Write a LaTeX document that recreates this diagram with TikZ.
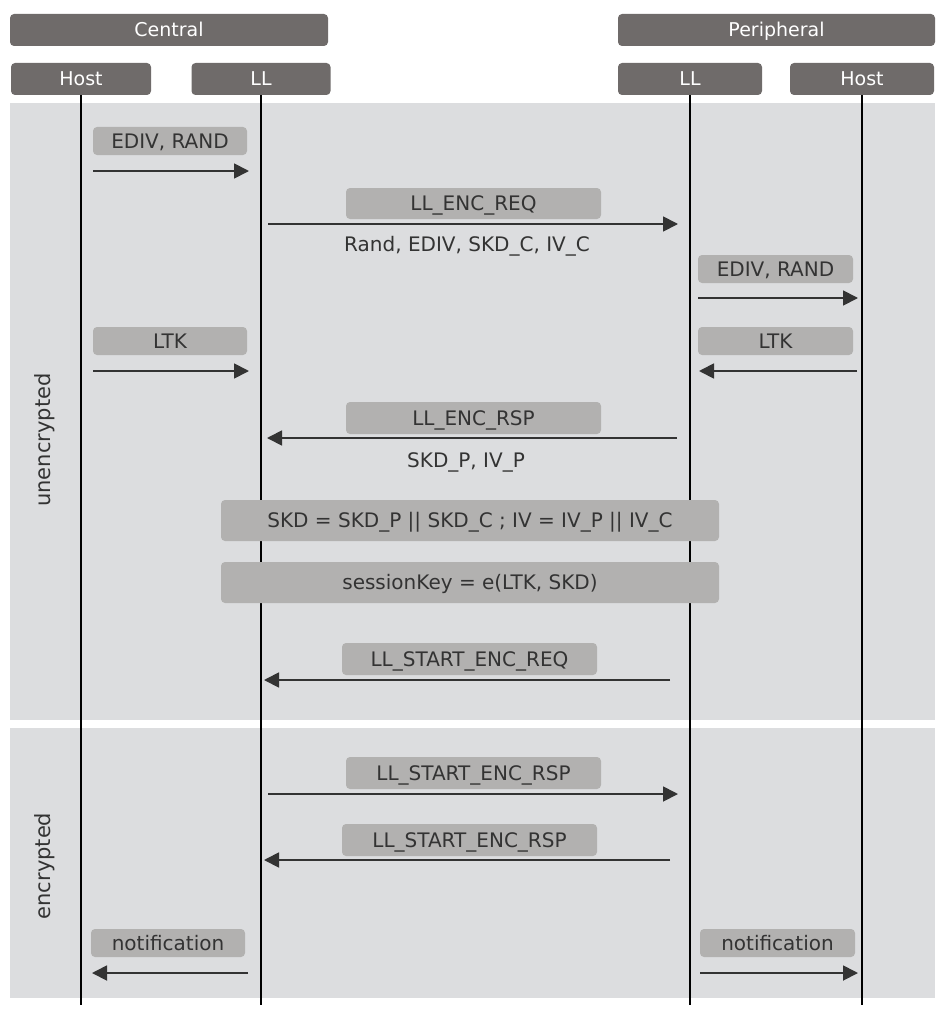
\documentclass[tikz,border=0pt]{standalone}
\usepackage{fontspec}
\setmainfont{DejaVu Sans}
\usetikzlibrary{arrows.meta}
\definecolor{hdr}{HTML}{6F6B6A}
\definecolor{bgc}{HTML}{DCDDDF}
\definecolor{msgc}{HTML}{B2B1B0}
\definecolor{txt}{HTML}{333333}
\begin{document}
\begin{tikzpicture}[x=1pt,y=-1pt,
  hdrbox/.style={fill=hdr, rounded corners=4pt, text=white, inner sep=0pt, minimum height=32,
     text height=17pt, text depth=3.2pt, font=\fontsize{19}{22}\selectfont},
  msgbox/.style={fill=msgc, rounded corners=4pt, text=txt, inner sep=0pt,
     text height=18pt, text depth=3.4pt, font=\fontsize{20}{24}\selectfont},
  plain/.style={text=txt, inner sep=0pt, text height=18pt, text depth=3.4pt,
     font=\fontsize{20}{24}\selectfont},
  side/.style={text=txt, inner sep=0pt, rotate=90, font=\fontsize{21}{24}\selectfont},
  life/.style={draw=black, line width=1.1pt},
  msg/.style={draw=txt, line width=1.8pt, -{Triangle[length=15pt,width=15pt]}}]
\useasboundingbox (0,0) rectangle (952,1014);
% background bands
\fill[bgc] (10,103) rectangle (935,720);
\fill[bgc] (10,728) rectangle (935,998);
% headers
\node[hdrbox, minimum width=318] (central) at (169,30) {Central};
\node[hdrbox, minimum width=317] (periph) at (776.5,30) {Peripheral};
\node[hdrbox, minimum width=140] (hostC) at (81,79) {Host};
\node[hdrbox, minimum width=139] (llC) at (261,79) {LL};
\node[hdrbox, minimum width=144] (llP) at (690,79) {LL};
\node[hdrbox, minimum width=144] (hostP) at (862,79) {Host};
% lifelines
\coordinate (hostCend) at (81,1005);
\coordinate (llCend) at (261,1005);
\coordinate (llPend) at (690,1005);
\coordinate (hostPend) at (862,1005);
\draw[life] (hostC.south) -- (hostCend);
\draw[life] (llC.south) -- (llCend);
\draw[life] (llP.south) -- (llPend);
\draw[life] (hostP.south) -- (hostPend);
% side labels
\node[side] (unenc) at (45,440) {unencrypted};
\node[side] (enc) at (45,866) {encrypted};
% 1 EDIV, RAND (central)
\node[msgbox, minimum width=154, minimum height=28] (m1) at (170,141) {EDIV, RAND};
\coordinate (m1s) at (93,171); \coordinate (m1e) at (249,171);
\draw[msg] (m1s) -- (m1e);
% 2 LL_ENC_REQ
\node[msgbox, minimum width=255, minimum height=31] (m2) at (473.5,203.5) {LL\_ENC\_REQ};
\coordinate (m2s) at (268,224); \coordinate (m2e) at (678,224);
\draw[msg] (m2s) -- (m2e);
\node[plain] (m2b) at (467,244) {Rand, EDIV, SKD\_C, IV\_C};
% 3 EDIV, RAND (peripheral)
\node[msgbox, minimum width=155, minimum height=28] (m3) at (775.5,269) {EDIV, RAND};
\coordinate (m3s) at (698,298); \coordinate (m3e) at (858,298);
\draw[msg] (m3s) -- (m3e);
% 4 LTK
\node[msgbox, minimum width=154, minimum height=28] (m4) at (170,341) {LTK};
\coordinate (m4s) at (93,371); \coordinate (m4e) at (249,371);
\draw[msg] (m4s) -- (m4e);
\node[msgbox, minimum width=155, minimum height=28] (m5) at (775.5,341) {LTK};
\coordinate (m5s) at (857,371); \coordinate (m5e) at (699,371);
\draw[msg] (m5s) -- (m5e);
% 6 LL_ENC_RSP
\node[msgbox, minimum width=255, minimum height=32] (m6) at (473.5,418) {LL\_ENC\_RSP};
\coordinate (m6s) at (677,438); \coordinate (m6e) at (267,438);
\draw[msg] (m6s) -- (m6e);
\node[plain] (m6b) at (466,460) {SKD\_P, IV\_P};
% computations
\node[msgbox, minimum width=498, minimum height=41] (c1) at (470,520.5) {SKD = SKD\_P || SKD\_C ; IV = IV\_P || IV\_C};
\node[msgbox, minimum width=498, minimum height=41] (c2) at (470,582.5) {sessionKey = e(LTK, SKD)};
% LL_START_ENC_REQ
\node[msgbox, minimum width=255, minimum height=32] (m7) at (469.5,659) {LL\_START\_ENC\_REQ};
\coordinate (m7s) at (670,680); \coordinate (m7e) at (264,680);
\draw[msg] (m7s) -- (m7e);
% LL_START_ENC_RSP (to peripheral)
\node[msgbox, minimum width=255, minimum height=32] (m8) at (473.5,773) {LL\_START\_ENC\_RSP};
\coordinate (m8s) at (268,794); \coordinate (m8e) at (678,794);
\draw[msg] (m8s) -- (m8e);
% LL_START_ENC_RSP (to central)
\node[msgbox, minimum width=255, minimum height=32] (m9) at (469.5,840) {LL\_START\_ENC\_RSP};
\coordinate (m9s) at (670,860); \coordinate (m9e) at (264,860);
\draw[msg] (m9s) -- (m9e);
% notifications
\node[msgbox, minimum width=154, minimum height=28] (n1) at (168,943) {notification};
\coordinate (n1s) at (248,973); \coordinate (n1e) at (92,973);
\draw[msg] (n1s) -- (n1e);
\node[msgbox, minimum width=155, minimum height=28] (n2) at (777.5,943) {notification};
\coordinate (n2s) at (700,973); \coordinate (n2e) at (858,973);
\draw[msg] (n2s) -- (n2e);
\end{tikzpicture}
\end{document}
